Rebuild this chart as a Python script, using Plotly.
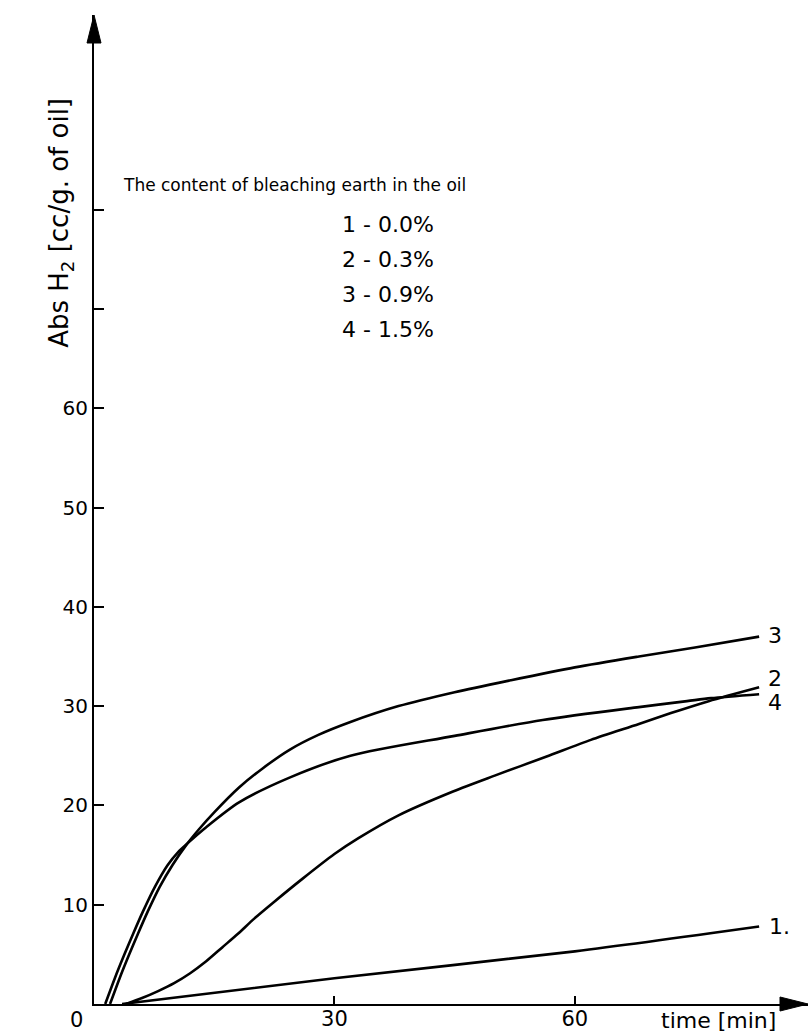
import plotly.graph_objects as go

# Hydrogen absorption vs. time for oils with different bleaching-earth content
t_1 = [3.5, 30, 60, 83]
abs_1 = [0.0, 2.6, 5.3, 7.8]

t_2 = [4, 6, 8, 10, 12, 14, 16, 18, 20, 22.5, 26, 30, 33, 38, 44.8, 50, 56.4, 62, 68, 72, 76.7, 83]
abs_2 = [0.0, 0.6, 1.3, 2.1, 3.1, 4.3, 5.7, 7.1, 8.6, 10.3, 12.6, 15.1, 16.7, 19.0, 21.4, 23.0, 24.9, 26.6, 28.2, 29.3, 30.5, 31.9]

t_3 = [2.0, 3.2, 4.4, 5.5, 6.7, 8.2, 9.8, 11.5, 13.1, 15, 18.1, 21, 24.4, 28, 32, 38, 45, 52, 60, 68, 75, 83]
abs_3 = [0.0, 2.6, 5.0, 7.1, 9.3, 11.8, 14.0, 16.0, 17.6, 19.3, 21.8, 23.7, 25.6, 27.1, 28.4, 30.0, 31.4, 32.6, 33.9, 35.0, 35.9, 37.0]

t_4 = [1.4, 2.6, 3.8, 4.9, 6.1, 7.6, 9.2, 10.5, 11.7, 14, 18.1, 24.4, 32, 45, 56, 68, 74, 77, 83]
abs_4 = [0.0, 2.6, 5.0, 7.1, 9.3, 11.8, 14.0, 15.3, 16.2, 17.8, 20.3, 22.8, 25.0, 27.0, 28.6, 29.9, 30.5, 30.8, 31.2]

curve_labels = ["1.", "2", "3", "4"]
legend_title = "The content of bleaching earth in the oil"
legend_rows = ["1 - 0.0%", "2 - 0.3%", "3 - 0.9%", "4 - 1.5%"]

y_ticks = [10, 20, 30, 40, 50, 60, 70, 80]
y_ticktext = ["10", "20", "30", "40", "50", "60", "", ""]
x_ticks = [30, 60]
x_ticktext = ["30", "60"]

X_MAX = 89.1
Y_MAX = 99.6
FONT = "DejaVu Sans"

fig = go.Figure()
series = [(t_1, abs_1), (t_2, abs_2), (t_3, abs_3), (t_4, abs_4)]
for (tx, ty), name in zip(series, curve_labels):
    fig.add_trace(go.Scatter(
        x=tx, y=ty, mode="lines", name=name, showlegend=False,
        line=dict(color="black", width=2.6, shape="spline", smoothing=0.8),
        hoverinfo="skip",
    ))

# curve end labels
label_offsets = {"1.": (8, 0), "2": (7, 9), "3": (7, 1), "4": (7, -8)}
for (tx, ty), name in zip(series, curve_labels):
    dx, dy = label_offsets[name]
    fig.add_annotation(
        x=tx[-1], y=ty[-1], text=name, showarrow=False,
        xanchor="left", yanchor="middle", xshift=dx, yshift=dy,
        font=dict(family=FONT, size=22, color="black"),
    )

# legend block
fig.add_annotation(
    x=0.038, y=0.828, xref="paper", yref="paper", text=legend_title,
    showarrow=False, xanchor="left", yanchor="middle",
    font=dict(family=FONT, size=17, color="black"),
)
for i, row in enumerate(legend_rows):
    fig.add_annotation(
        x=0.3445, y=0.7877 - i * 0.0354, xref="paper", yref="paper", text=row,
        showarrow=False, xanchor="left", yanchor="middle",
        font=dict(family=FONT, size=22, color="black"),
    )

# axis titles and origin label
fig.add_annotation(
    x=-0.046, y=0.79, xref="paper", yref="paper",
    text="Abs H<sub>2</sub> [cc/g. of oil]", textangle=-90, showarrow=False,
    xanchor="center", yanchor="middle",
    font=dict(family=FONT, size=26, color="black"),
)
fig.add_annotation(
    x=0.875, y=-0.002, xref="paper", yref="paper", text="time [min]",
    showarrow=False, xanchor="center", yanchor="top",
    font=dict(family=FONT, size=22, color="black"),
)
fig.add_annotation(
    x=-0.012, y=-0.002, xref="paper", yref="paper", text="0",
    showarrow=False, xanchor="right", yanchor="top",
    font=dict(family=FONT, size=21, color="black"),
)

# arrowheads at the ends of both axes
fig.add_shape(
    type="path", xref="paper", yref="paper", xsizemode="pixel", ysizemode="pixel",
    xanchor=0, yanchor=1, path="M-7,-28 L0,0 L7,-28 Z",
    fillcolor="black", line=dict(color="black", width=1),
)
fig.add_shape(
    type="path", xref="paper", yref="paper", xsizemode="pixel", ysizemode="pixel",
    xanchor=1, yanchor=0, path="M-28,-7 L0,0 L-28,7 Z",
    fillcolor="black", line=dict(color="black", width=1),
)

fig.update_layout(
    width=811, height=1034,
    margin=dict(l=94, r=3, t=15, b=30, autoexpand=False),
    paper_bgcolor="white", plot_bgcolor="white",
    font=dict(family=FONT, color="black"),
    xaxis=dict(
        range=[0, X_MAX], showgrid=False, zeroline=False,
        showline=True, linecolor="black", linewidth=2,
        tickmode="array", tickvals=x_ticks, ticktext=x_ticktext,
        ticks="inside", ticklen=8, tickwidth=2, tickcolor="black",
        tickfont=dict(family=FONT, size=21, color="black"),
        ticklabelstandoff=-5,
        automargin=False,
    ),
    yaxis=dict(
        range=[0, Y_MAX], showgrid=False, zeroline=False,
        showline=True, linecolor="black", linewidth=2,
        tickmode="array", tickvals=y_ticks, ticktext=y_ticktext,
        ticks="inside", ticklen=10, tickwidth=2, tickcolor="black",
        tickfont=dict(family=FONT, size=20, color="black"),
        automargin=False,
    ),
)

fig.write_html("out.html")
